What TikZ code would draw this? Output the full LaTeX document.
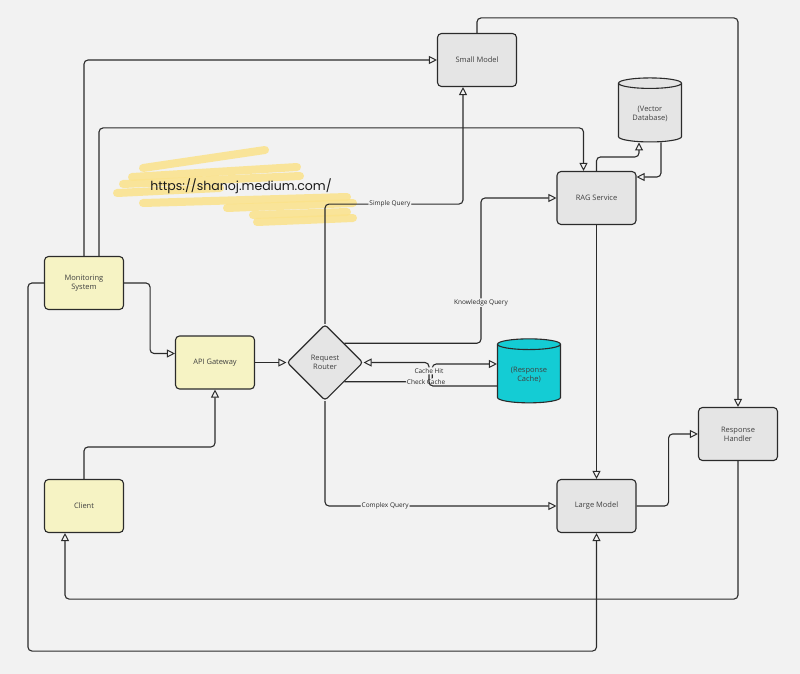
\documentclass[tikz,border=0pt]{standalone}
\usepackage{fontspec}
\setmainfont{Open Sans}
\newfontfamily\handfont{Poppins}
\usetikzlibrary{arrows.meta,shapes.geometric}
\definecolor{canvas}{HTML}{F2F2F2}
\definecolor{paleyellow}{HTML}{F6F3C4}
\definecolor{palegrey}{HTML}{E5E5E5}
\definecolor{cachecyan}{HTML}{14CCD4}
\definecolor{inkline}{HTML}{2B2B2B}
\definecolor{marker}{HTML}{FBE28A}
\tikzset{
  box/.style={draw=inkline, line width=1.1pt, rounded corners=4pt, minimum width=79pt, minimum height=53pt, align=center, font=\fontsize{7.5}{9}\selectfont, text=black!75},
  yellowbox/.style={box, fill=paleyellow},
  greybox/.style={box, fill=palegrey},
  store/.style={cylinder, shape border rotate=90, aspect=0.25, draw=inkline, line width=1.1pt, minimum width=63pt, minimum height=64pt, align=center, font=\fontsize{7.5}{9}\selectfont, text=black!75},
  router/.style={diamond, aspect=1, draw=inkline, line width=1.1pt, rounded corners=3pt, fill=palegrey, inner sep=0pt, minimum size=76pt, align=center, font=\fontsize{7.5}{9}\selectfont, text=black!75},
  flow/.style={draw=inkline, line width=1.1pt, rounded corners=4pt, -{Triangle[open, length=8pt, width=8pt, line width=1pt]}},
  lbl/.style={fill=canvas, inner sep=1pt, font=\fontsize{6.5}{7}\selectfont, text=black!85},
  scribble/.style={marker, line width=8pt, line cap=round, opacity=0.85}
}
\begin{document}
\begin{tikzpicture}[x=1pt, y=-1pt]
\fill[canvas] (0,0) rectangle (800,674);
\useasboundingbox (0,0) rectangle (800,674);

% watermark
\draw[scribble] (143,168) -- (265,150);
\draw[scribble] (132,177) -- (297,167);
\draw[scribble] (123,184) -- (300,176);
\draw[scribble] (117,193) -- (220,188);
\draw[scribble] (143,203) -- (347,197);
\draw[scribble] (227,208) -- (353,203);
\draw[scribble] (253,215) -- (347,212);
\draw[scribble] (257,222) -- (353,218);
\node[font=\handfont\fontsize{12.5}{14}\selectfont, text=black!90] (wm) at (241,186) {https://shanoj.medium.com/};

\node[greybox] (sm) at (477,60) {Small Model};
\node[store, fill=palegrey] (vdb) at (650,114) {(Vector\\Database)};
\node[greybox] (rag) at (596.5,198) {RAG Service};
\node[yellowbox] (mon) at (84,283) {Monitoring\\System};
\node[yellowbox] (gw) at (215,362.5) {API Gateway};
\node[router] (rr) at (325,362.5) {Request\\Router};
\node[store, fill=cachecyan] (cache) at (529,375) {(Response\\Cache)};
\node[greybox] (rh) at (738,434) {Response\\Handler};
\node[yellowbox] (client) at (84,506) {Client};
\node[greybox] (lm) at (596.5,506) {Large Model};

\coordinate (kq) at (481,198);

\draw[flow] (mon.north) |- (sm.west);
\draw[flow] ([xshift=15pt]mon.north) |- ([xshift=-13pt,yshift=43pt]rag.north) -- ([xshift=-13pt]rag.north);
\draw[flow] (mon.east) -- ++(26,0) |- ([yshift=9pt]gw.west);
\draw[flow] (mon.west) -- ++(-16,0) |- ([yshift=-118pt]lm.south) -- (lm.south);
\draw[flow] (client.north) -- ++(0,-32) -| (gw.south);
\draw[flow] (gw) -- (rr);
\draw[flow] (rr.north) |- node[lbl, pos=0.735]{Simple Query} ([xshift=-14pt,yshift=-117pt]sm.south) -- ([xshift=-14pt]sm.south);
\draw[flow] (rr.north east) -| node[lbl, pos=0.64]{Knowledge Query} (kq) -- (rag.west);
\draw[flow] (rr.south) |- node[lbl, pos=0.63]{Complex Query} (lm.west);
\draw[flow] (rr.south east) -- node[lbl, pos=0.93]{Check Cache} ++(88,0) |- ([yshift=11pt]cache.west);
\draw[flow] ([yshift=-11pt]cache.west) -- ++(-68,0) |- node[lbl, pos=0.32]{Cache Hit} (rr.east);
\draw[flow] (rag.north) -- ++(0,-14) -| ([xshift=-11pt]vdb.south);
\draw[flow] ([xshift=11pt]vdb.south) |- ([yshift=21pt]rag.east);
\draw[flow] (rag) -- (lm);
\draw[flow] (sm.north) -- ++(0,-15) -| (rh.north);
\draw[flow] (lm.east) -- ++(32,0) |- (rh.west);
\draw[flow] (rh.south) -- ++(0,138) -| ([xshift=-19pt]client.south);
\end{tikzpicture}
\end{document}
